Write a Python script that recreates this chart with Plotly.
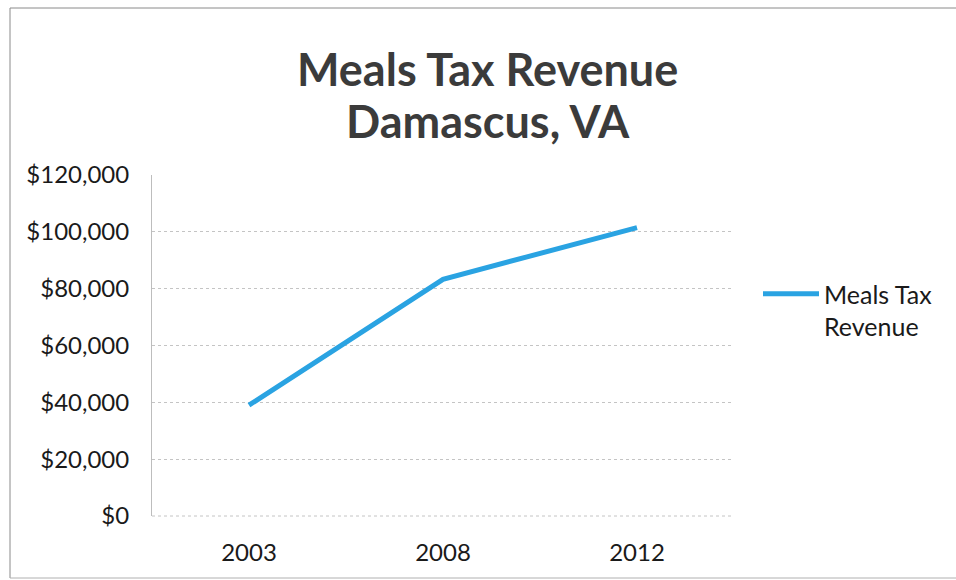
import plotly.graph_objects as go

# Meals tax revenue for Damascus, VA
years = ["2003", "2008", "2012"]
revenue = [39000, 83300, 101500]
y_ticks = [0, 20000, 40000, 60000, 80000, 100000, 120000]
y_tick_labels = ["$0", "$20,000", "$40,000", "$60,000", "$80,000", "$100,000", "$120,000"]
series_name = "Meals Tax<br>Revenue"
title_lines = ["Meals Tax Revenue", "Damascus, VA"]

W, H = 956, 580
L, R, T, B = 152, 222, 175, 64
pw, ph = W - L - R, H - T - B
FONT = "Lato, 'Open Sans', sans-serif"


def px_x(p):
    return (p - L) / pw


def px_y(p):
    return (H - B - p) / ph


fig = go.Figure()
fig.add_trace(go.Scatter(
    x=years, y=revenue, mode="lines", name=series_name,
    line=dict(color="#2aa3e2", width=5),
))

# two-line chart title, placed as separate lines for tighter spacing
title_centers = [69, 121]
annotations = [
    dict(text=f"<b>{t}</b>", xref="paper", yref="paper",
         x=px_x(488), y=px_y(c), xanchor="center", yanchor="middle",
         showarrow=False, font=dict(size=45, color="#3b3b3b", family=FONT))
    for t, c in zip(title_lines, title_centers)
]

grid_color = "#c4c4c4"
frame = dict(color="#8a8a8a", width=1)
fig.update_layout(
    width=W, height=H,
    margin=dict(l=L, r=R, t=T, b=B),
    paper_bgcolor="white", plot_bgcolor="white",
    font=dict(family=FONT, color="#1a1a1a", size=24),
    annotations=annotations,
    xaxis=dict(
        type="category", showgrid=False, zeroline=False, showline=False,
        ticks="", ticklabelstandoff=20,
        range=[-0.5, 2.5],
    ),
    yaxis=dict(
        range=[0, 120000], tickvals=y_ticks, ticktext=y_tick_labels,
        showgrid=True, gridcolor=grid_color, gridwidth=1, griddash="dot",
        zeroline=False, showline=True, linecolor="#bdbdbd", linewidth=1,
        ticks="", ticklabelstandoff=17,
    ),
    legend=dict(
        x=px_x(758), y=px_y(310), xanchor="left", yanchor="middle",
        valign="top",
        font=dict(size=25, color="#1a1a1a"), itemwidth=56,
        bgcolor="rgba(0,0,0,0)",
    ),
    showlegend=True,
    shapes=[
        # bottom gridline (axis baseline)
        dict(type="line", xref="paper", yref="paper", x0=0, x1=1, y0=0, y1=0,
             line=dict(color=grid_color, width=1, dash="dot")),
        # chart frame: left, top and bottom edges
        dict(type="line", xref="paper", yref="paper",
             x0=px_x(10), x1=px_x(10), y0=px_y(578), y1=px_y(8), line=frame),
        dict(type="line", xref="paper", yref="paper",
             x0=px_x(10), x1=px_x(956), y0=px_y(8), y1=px_y(8), line=frame),
        dict(type="line", xref="paper", yref="paper",
             x0=px_x(10), x1=px_x(956), y0=px_y(578), y1=px_y(578),
             line=dict(color="#b0b0b0", width=1)),
    ],
)

fig.write_html("out.html")
